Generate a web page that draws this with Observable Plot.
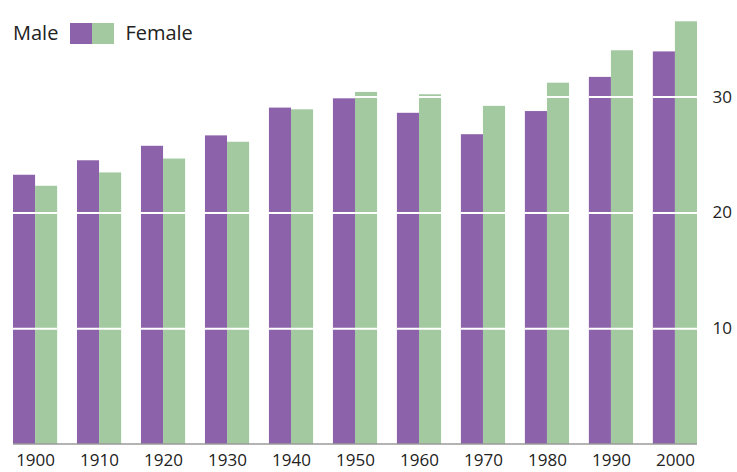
<!DOCTYPE html>
<html>
<head>
<meta charset="utf-8">
<script src="https://cdn.jsdelivr.net/npm/d3@7"></script>
<script src="https://cdn.jsdelivr.net/npm/@observablehq/plot@0.6"></script>
<style>
  body { margin: 0; background: #fff; }
  #wrap { position: relative; width: 737px; height: 472px; font-family: "Open Sans", sans-serif; }
  #legend { position: absolute; left: 13px; top: 21px; display: flex; align-items: center; font-size: 20px; color: #222; line-height: 24px; }
  #legend .sw { display: inline-block; width: 22px; height: 21px; margin-top: 1px; }
  #legend .lab1 { margin-right: 12px; }
  #legend .lab2 { margin-left: 11px; }
</style>
</head>
<body>
<div id="wrap">
  <div id="chart"></div>
  <div id="legend"></div>
</div>
<script>
const years = ["1900","1910","1920","1930","1940","1950","1960","1970","1980","1990","2000"];
const male   = [23.25, 24.5, 25.75, 26.65, 29.05, 29.85, 28.6, 26.75, 28.75, 31.7, 33.9];
const female = [22.3, 23.45, 24.65, 26.1, 28.9, 30.4, 30.2, 29.2, 31.2, 34.0, 36.5];
const sexes = ["Male", "Female"];
const colors = ["#8c62aa", "#a3c9a0"];
const yTicks = [10, 20, 30];

const data = [];
years.forEach((yr, i) => {
  data.push({year: yr, sex: "Male", value: male[i]});
  data.push({year: yr, sex: "Female", value: female[i]});
});

const chart = Plot.plot({
  width: 737,
  height: 472,
  marginTop: 0,
  marginBottom: 28,
  marginLeft: 13,
  marginRight: 40,
  style: { fontFamily: "Open Sans, sans-serif", fontSize: "17px", color: "#222", background: "#fff" },
  fx: { domain: years, paddingInner: 0.31, paddingOuter: 0, round: false, tickSize: 0, tickPadding: 9, label: null },
  x: { domain: sexes, padding: 0, round: false, axis: null },
  y: { domain: [0, 38.34], axis: "right", ticks: yTicks, tickSize: 0, tickPadding: 15, label: null, grid: false },
  color: { domain: sexes, range: colors },
  marks: [
    Plot.barY(data, { fx: "year", x: "sex", y: "value", fill: "sex" }),
    Plot.ruleY(yTicks, { stroke: "white", strokeWidth: 2 })
  ]
});

// continuous baseline across all groups, through the plot's own scales
const fx = chart.scale("fx");
const yS = chart.scale("y");
const svg = d3.select(chart);
const xs = fx.range;
svg.append("line")
  .attr("x1", xs[0]).attr("x2", xs[1])
  .attr("y1", yS.apply(0)).attr("y2", yS.apply(0))
  .attr("stroke", "#9a9a9a").attr("stroke-width", 1.5);

document.getElementById("chart").appendChild(chart);

const legend = document.getElementById("legend");
legend.innerHTML = `<span class="lab1">${sexes[0]}</span><span class="sw" style="background:${colors[0]}"></span><span class="sw" style="background:${colors[1]}"></span><span class="lab2">${sexes[1]}</span>`;
</script>
</body>
</html>
